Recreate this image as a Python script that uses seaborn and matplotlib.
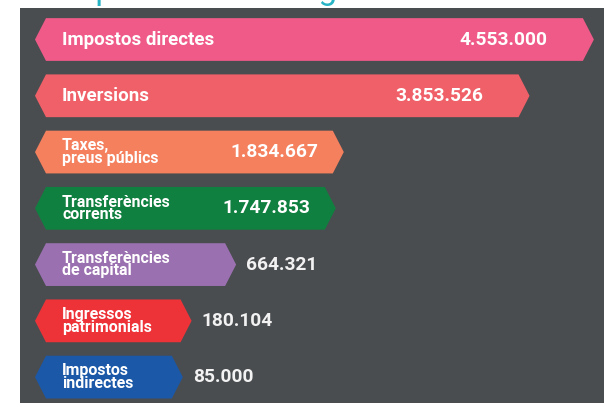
import matplotlib
matplotlib.use('Agg')
import matplotlib.pyplot as plt
from matplotlib.patches import Polygon
import seaborn as sns

# Data (income chapters, euros)
categories = ['Impostos directes', 'Inversions', 'Taxes,\npreus públics',
              'Transferències\ncorrents', 'Transferències\nde capital',
              'Ingressos\npatrimonials', 'Impostos\nindirectes']
values = [4553000, 3853526, 1834667, 1747853, 664321, 180104, 85000]
colors = ['#f05a88', '#f06068', '#f4805e', '#108040', '#9b70b0', '#ee3338', '#1b58a8']
title = "D'on provenen els ingressos?"

sns.set_style('dark')
plt.rcParams['font.family'] = ['Roboto', 'DejaVu Sans']

panel = '#4a4d50'
fig = plt.figure(figsize=(6.04, 4.03), dpi=100)
fig.patch.set_facecolor('white')
ax = fig.add_axes([20 / 604, 0, 584 / 604, 395 / 403])
ax.set_facecolor(panel)

# saturation=1 so seaborn keeps the colours as given
sns.barplot(x=values, y=categories, hue=categories, palette=colors, saturation=1,
            legend=False, orient='h', width=0.76, ax=ax)

# scale: ~92 px per million, zero sits at ~175 px from the left edge
px = 92.0e-6
ax.set_xlim(-(175 - 20) / px, -(175 - 20) / px + 584 / px)
ax.set_ylim(6.46, -0.56)

depth = 11 / px          # arrow point depth
left_flat = -129 / px    # flat left edge of every bar

# swap the rectangles for arrow-shaped hexagons
for i, p in enumerate(ax.patches[:len(values)]):
    y0, h = p.get_y(), p.get_height()
    yc = y0 + h / 2
    tip = p.get_x() + p.get_width()
    pts = [(left_flat - depth, yc), (left_flat, y0), (tip - depth, y0),
           (tip, yc), (tip - depth, y0 + h), (left_flat, y0 + h)]
    ax.add_patch(Polygon(pts, closed=True, facecolor=p.get_facecolor(),
                         edgecolor='none', zorder=2))
    p.set_visible(False)

for i, (name, v) in enumerate(zip(categories, values)):
    two_lines = '\n' in name
    ax.text(left_flat + 16 / px, i, name, ha='left', va='center',
            color='white', fontweight='bold', fontsize=11.5 if two_lines else 13.5,
            linespacing=0.78, zorder=3)
    label = f'{v:,}'.replace(',', '.')
    if v > 1e6:
        pad = 46 if v > 3e6 else 25
        ax.annotate(label, (v, i), xytext=(-pad * 0.72, 0), textcoords='offset points',
                    ha='right', va='center', color='white', fontsize=13.8,
                    fontweight='semibold', zorder=3)
    else:
        ax.annotate(label, (v, i), xytext=(10 * 0.72, 0), textcoords='offset points',
                    ha='left', va='center', color='#f2f2f2', fontsize=13.8,
                    fontweight='semibold', zorder=3)

ax.set(xlabel=None, ylabel=None, xticks=[], yticks=[])
sns.despine(ax=ax, left=True, bottom=True)

# title is cut off at the top of the picture, only its bottom shows
fig.text(22 / 604, 404 / 403, title, ha='left', va='baseline', fontsize=24,
         color='#29b4c6', zorder=-1)

fig.savefig('out.png', dpi=100)
